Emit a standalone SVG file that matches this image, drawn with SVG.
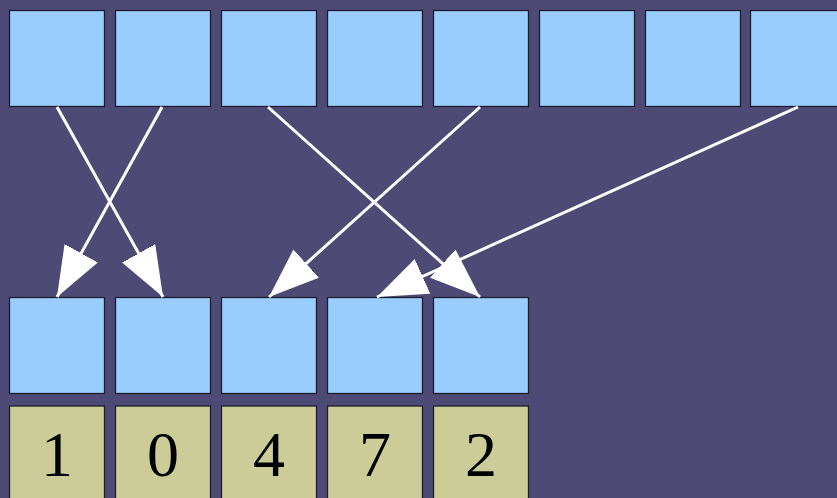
<svg xmlns="http://www.w3.org/2000/svg" width="837" height="498" viewBox="0 0 837 498">
<defs>
<style>
.b{fill:#99ccff;stroke:#1c1c2c;stroke-width:1.3}
.n{fill:#cccc99;stroke:#1c1c2c;stroke-width:1.3}
.t{font-family:"Liberation Serif",serif;font-size:64px;fill:#000;text-anchor:middle}
.c{stroke:#fff;stroke-width:3;fill:none;marker-end:url(#ah)}
</style>
<marker id="ah" markerUnits="userSpaceOnUse" markerWidth="50" markerHeight="38" refX="50" refY="19" orient="auto">
<path d="M0,0 L50,19 L0,38 z" fill="#fff"/>
</marker>
</defs>
<rect width="837" height="498" fill="#4d4b76"/>
<g id="top">
<rect id="t0" class="b" x="9.5" y="10.5" width="95" height="96"/>
<rect id="t1" class="b" x="115.5" y="10.5" width="95" height="96"/>
<rect id="t2" class="b" x="221.5" y="10.5" width="95" height="96"/>
<rect id="t3" class="b" x="327.5" y="10.5" width="95" height="96"/>
<rect id="t4" class="b" x="433.5" y="10.5" width="95" height="96"/>
<rect id="t5" class="b" x="539.5" y="10.5" width="95" height="96"/>
<rect id="t6" class="b" x="645.5" y="10.5" width="95" height="96"/>
<rect id="t7" class="b" x="750.5" y="10.5" width="95" height="96"/>
</g>
<g id="bottom">
<rect id="b0" class="b" x="9.5" y="297.5" width="95" height="96"/>
<rect id="b1" class="b" x="115.5" y="297.5" width="95" height="96"/>
<rect id="b2" class="b" x="221.5" y="297.5" width="95" height="96"/>
<rect id="b3" class="b" x="327.5" y="297.5" width="95" height="96"/>
<rect id="b4" class="b" x="433.5" y="297.5" width="95" height="96"/>
</g>
<g id="nums">
<g id="n0"><rect class="n" x="9.5" y="406" width="95" height="100"/><text class="t" x="57" y="476">1</text></g>
<g id="n1"><rect class="n" x="115.5" y="406" width="95" height="100"/><text class="t" x="163" y="476">0</text></g>
<g id="n2"><rect class="n" x="221.5" y="406" width="95" height="100"/><text class="t" x="269" y="476">4</text></g>
<g id="n3"><rect class="n" x="327.5" y="406" width="95" height="100"/><text class="t" x="375" y="476">7</text></g>
<g id="n4"><rect class="n" x="433.5" y="406" width="95" height="100"/><text class="t" x="481" y="476">2</text></g>
</g>
<g id="connectors">
<line class="c" x1="57" y1="107" x2="163" y2="297"/>
<line class="c" x1="162" y1="107" x2="57" y2="297"/>
<line class="c" x1="268" y1="107" x2="480" y2="297"/>
<line class="c" x1="480" y1="107" x2="269" y2="297"/>
<line class="c" x1="798" y1="107" x2="377" y2="297"/>
</g>
</svg>
